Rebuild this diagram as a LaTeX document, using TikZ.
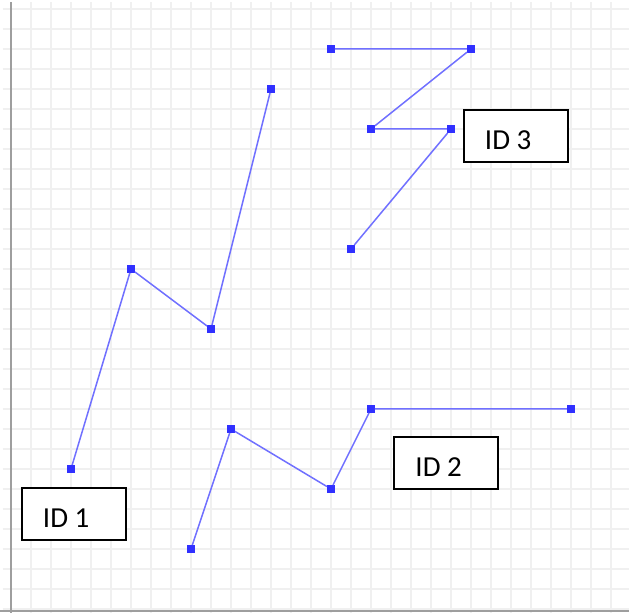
\documentclass[tikz,border=0pt]{standalone}
\usepackage{fontspec}
\setmainfont{Carlito}
\tikzset{
  gridline/.style={line width=0.9pt, color=black!6},
  axisline/.style={line width=1.1pt, color=black!38},
  trail/.style={line width=0.75pt, color=trailblue},
  mk/.style={rectangle, fill=markblue, inner sep=0pt, minimum size=3.6pt},
  idbox/.style={draw, fill=white, line width=1pt, rectangle,
    inner xsep=10.5pt, inner ysep=0pt, minimum height=26pt,
    text height=13.2pt, text depth=0pt, font=\fontsize{14.5pt}{16pt}\selectfont}
}
\newcommand{\idtext}[1]{\makebox[31pt][l]{#1}}
\definecolor{trailblue}{RGB}{112,112,255}
\definecolor{markblue}{RGB}{48,48,255}
\begin{document}
\begin{tikzpicture}[x=10pt,y=10pt]
    \fill[white] (-0.55,-0.2) rectangle (30.9,30.45);
    \useasboundingbox (-0.55,-0.2) rectangle (30.9,30.45);

    % grid paper
    \foreach \i in {1,...,30}
        \draw[gridline] (\i,-0.2) -- (\i,30.35);
    \foreach \j in {0,...,30}
        \draw[gridline] (-0.4,\j) -- (30.9,\j);

    % axes
    \draw[axisline] (0,-0.2) -- (0,30.35);
    \draw[axisline] (-0.55,-0.1) -- (30.9,-0.1);

    % track 1
    \node[mk] (a1) at (3,7) {};
    \node[mk] (a2) at (6,17) {};
    \node[mk] (a3) at (10,14) {};
    \node[mk] (a4) at (13,26) {};
    \draw[trail] (a1) -- (a2) -- (a3) -- (a4);

    % track 2
    \node[mk] (b1) at (9,3) {};
    \node[mk] (b2) at (11,9) {};
    \node[mk] (b3) at (16,6) {};
    \node[mk] (b4) at (18,10) {};
    \node[mk] (b5) at (28,10) {};
    \draw[trail] (b1) -- (b2) -- (b3) -- (b4) -- (b5);

    % track 3
    \node[mk] (c1) at (16,28) {};
    \node[mk] (c2) at (23,28) {};
    \node[mk] (c3) at (18,24) {};
    \node[mk] (c4) at (22,24) {};
    \node[mk] (c5) at (17,18) {};
    \draw[trail] (c1) -- (c2) -- (c3) -- (c4) -- (c5);

    % labels
    \node[idbox] (id1) at (3.15,4.725) {\idtext{ID 1}};
    \node[idbox] (id2) at (21.775,7.3) {\idtext{ID 2}};
    \node[idbox] (id3) at (25.25,23.625) {\idtext{ID 3}};
\end{tikzpicture}
\end{document}
